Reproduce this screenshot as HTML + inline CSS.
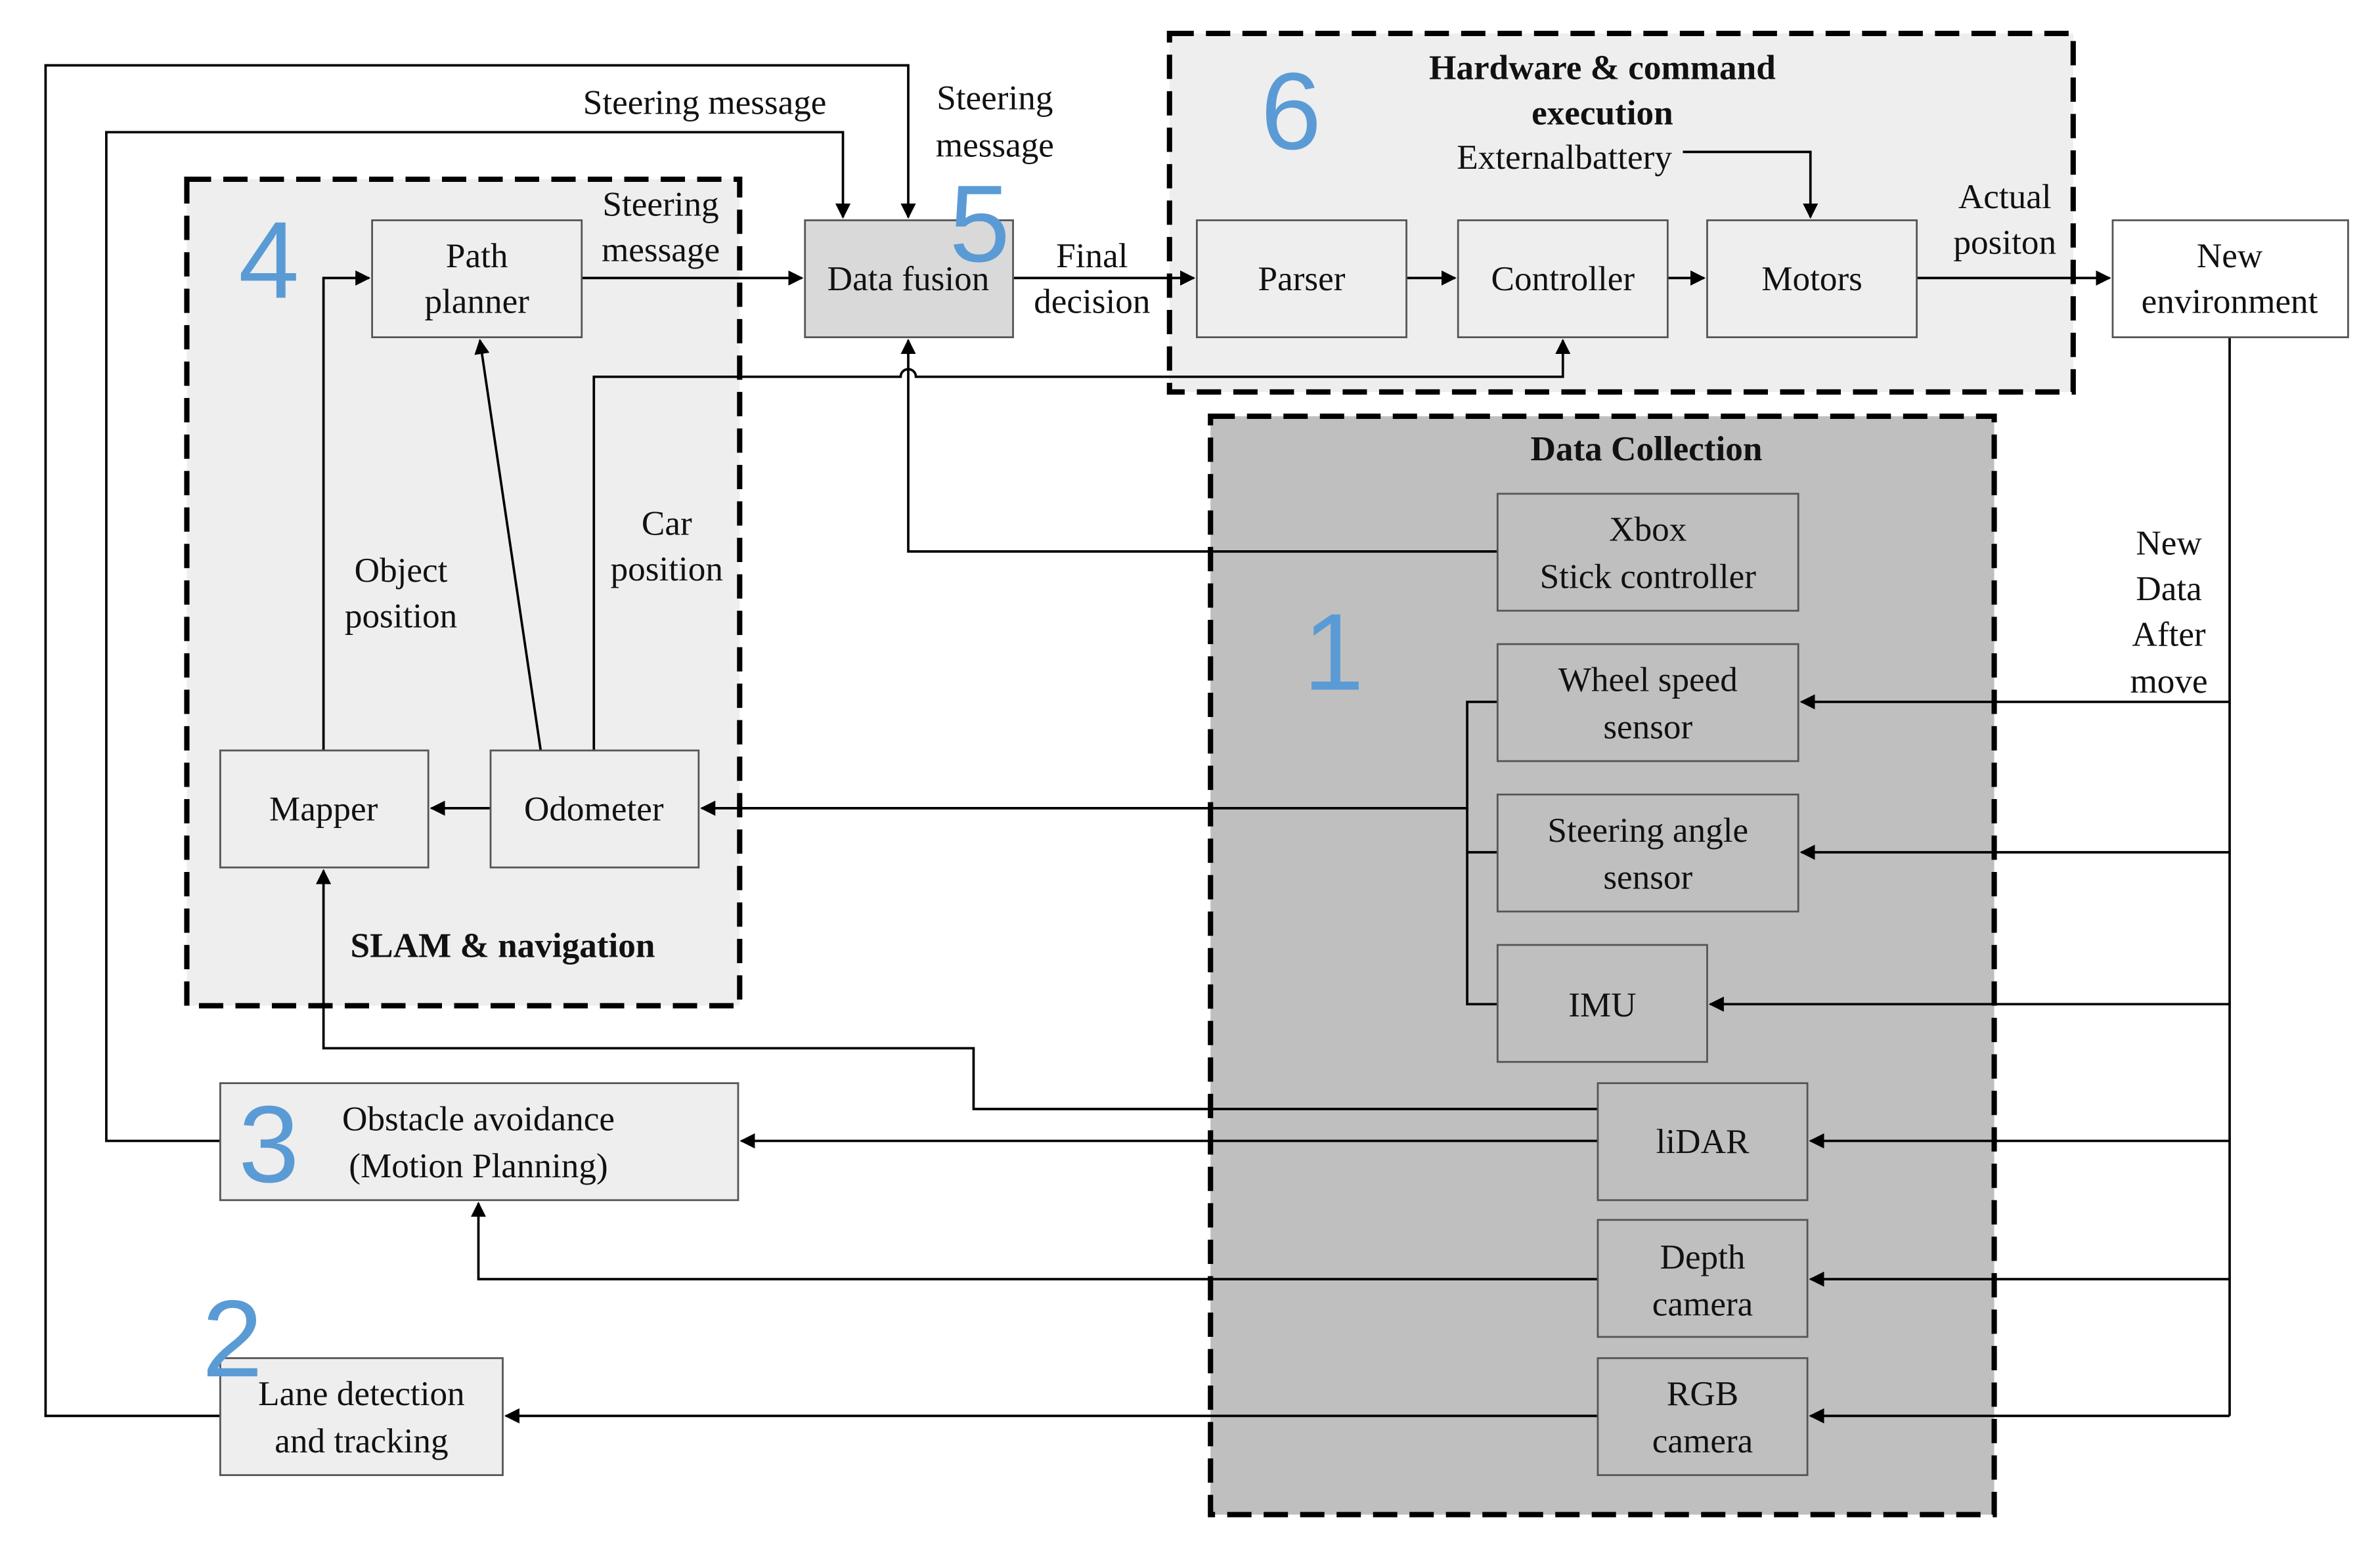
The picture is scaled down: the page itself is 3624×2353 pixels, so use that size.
<!DOCTYPE html>
<html><head><meta charset="utf-8"><style>
html,body{margin:0;padding:0;background:#fff;}
svg{display:block;}
text{font-family:"Liberation Serif",serif;font-size:23px;fill:#111;}
.n{font-family:"Liberation Sans",sans-serif;font-size:72px;fill:#5b9bd5;}
.b{font-weight:bold;}
</style></head><body>
<svg width="3624" height="2353" viewBox="0 0 1567 1017" preserveAspectRatio="none" xmlns="http://www.w3.org/2000/svg">
<defs><marker id="a" markerWidth="10" markerHeight="10" refX="9" refY="5" orient="auto" markerUnits="userSpaceOnUse"><path d="M0,0 L10,5 L0,10 z" fill="#000"/></marker></defs>
<rect width="1567" height="1017" fill="#fff"/>
<rect x="770" y="22" width="595" height="236" fill="#eeeeee" stroke="#000" stroke-width="3.5" stroke-dasharray="16,8"/>
<rect x="797" y="274" width="516" height="723" fill="#bfbfbf" stroke="#000" stroke-width="3.5" stroke-dasharray="16,8"/>
<rect x="123" y="118" width="364" height="544" fill="#eeeeee" stroke="#000" stroke-width="3.5" stroke-dasharray="16,8"/>
<g fill="none" stroke="#000" stroke-width="1.6">
<polyline points="145,932 30,932 30,43 598,43 598,143" marker-end="url(#a)"/>
<polyline points="145,751 70,751 70,87 555,87 555,143" marker-end="url(#a)"/>
<line x1="383" y1="183" x2="528" y2="183" marker-end="url(#a)"/>
<line x1="667" y1="183" x2="786" y2="183" marker-end="url(#a)"/>
<line x1="926" y1="183" x2="958" y2="183" marker-end="url(#a)"/>
<line x1="1098" y1="183" x2="1122" y2="183" marker-end="url(#a)"/>
<line x1="1262" y1="183" x2="1389" y2="183" marker-end="url(#a)"/>
<polyline points="1108,100 1192,100 1192,143" marker-end="url(#a)"/>
<path d="M391,494 L391,248 L593,248 A5,5 0 0 1 603,248 L1029,248 L1029,224" marker-end="url(#a)"/>
<polyline points="986,363 598,363 598,224" marker-end="url(#a)"/>
<polyline points="213,494 213,183 243,183" marker-end="url(#a)"/>
<line x1="356" y1="494" x2="316" y2="224" marker-end="url(#a)"/>
<line x1="323" y1="532" x2="284" y2="532" marker-end="url(#a)"/>
<polyline points="986,462 966,462 966,661 986,661"/>
<line x1="986" y1="561" x2="966" y2="561"/>
<line x1="966" y1="532" x2="462" y2="532" marker-end="url(#a)"/>
<polyline points="1052,730 641,730 641,690 213,690 213,573" marker-end="url(#a)"/>
<line x1="1052" y1="751" x2="488" y2="751" marker-end="url(#a)"/>
<polyline points="1052,842 315,842 315,792" marker-end="url(#a)"/>
<line x1="1052" y1="932" x2="333" y2="932" marker-end="url(#a)"/>
<line x1="1468" y1="222" x2="1468" y2="932"/>
<line x1="1468" y1="462" x2="1186" y2="462" marker-end="url(#a)"/>
<line x1="1468" y1="561" x2="1186" y2="561" marker-end="url(#a)"/>
<line x1="1468" y1="661" x2="1126" y2="661" marker-end="url(#a)"/>
<line x1="1468" y1="751" x2="1192" y2="751" marker-end="url(#a)"/>
<line x1="1468" y1="842" x2="1192" y2="842" marker-end="url(#a)"/>
<line x1="1468" y1="932" x2="1192" y2="932" marker-end="url(#a)"/>
</g>
<g stroke="#555" stroke-width="1.2" fill="#eeeeee">
<rect x="245" y="145" width="138" height="77"/>
<rect x="530" y="145" width="137" height="77" fill="#d9d9d9"/>
<rect x="788" y="145" width="138" height="77"/>
<rect x="960" y="145" width="138" height="77"/>
<rect x="1124" y="145" width="138" height="77"/>
<rect x="1391" y="145" width="155" height="77" fill="#fff"/>
<rect x="986" y="325" width="198" height="77" fill="#bfbfbf"/>
<rect x="986" y="424" width="198" height="77" fill="#bfbfbf"/>
<rect x="986" y="523" width="198" height="77" fill="#bfbfbf"/>
<rect x="986" y="622" width="138" height="77" fill="#bfbfbf"/>
<rect x="1052" y="713" width="138" height="77" fill="#bfbfbf"/>
<rect x="1052" y="803" width="138" height="77" fill="#bfbfbf"/>
<rect x="1052" y="894" width="138" height="77" fill="#bfbfbf"/>
<rect x="145" y="494" width="137" height="77"/>
<rect x="323" y="494" width="137" height="77"/>
<rect x="145" y="713" width="341" height="77"/>
<rect x="145" y="894" width="186" height="77"/>
</g>
<g text-anchor="middle">
<text x="314" y="176">Path</text><text x="314" y="206">planner</text>
<text x="598" y="191">Data fusion</text>
<text x="857" y="191">Parser</text>
<text x="1029" y="191">Controller</text>
<text x="1193" y="191">Motors</text>
<text x="1468" y="176">New</text><text x="1468" y="206">environment</text>
<text x="1085" y="356">Xbox</text><text x="1085" y="387">Stick controller</text>
<text x="1085" y="455">Wheel speed</text><text x="1085" y="486">sensor</text>
<text x="1085" y="554">Steering angle</text><text x="1085" y="585">sensor</text>
<text x="1055" y="669">IMU</text>
<text x="1121" y="759">liDAR</text>
<text x="1121" y="835">Depth</text><text x="1121" y="866">camera</text>
<text x="1121" y="925">RGB</text><text x="1121" y="956">camera</text>
<text x="213" y="540">Mapper</text>
<text x="391" y="540">Odometer</text>
<text x="315" y="744">Obstacle avoidance</text><text x="315" y="775">(Motion Planning)</text>
<text x="238" y="925">Lane detection</text><text x="238" y="956">and tracking</text>
<text x="464" y="75">Steering message</text>
<text x="655" y="72">Steering</text><text x="655" y="103">message</text>
<text x="435" y="142">Steering</text><text x="435" y="172">message</text>
<text x="719" y="176">Final</text><text x="719" y="206">decision</text>
<text x="1320" y="137">Actual</text><text x="1320" y="167">positon</text>
<text x="1030" y="111">Externalbattery</text>
<text x="1055" y="52" class="b">Hardware &amp; command</text><text x="1055" y="82" class="b">execution</text>
<text x="1084" y="303" class="b">Data Collection</text>
<text x="331" y="630" class="b">SLAM &amp; navigation</text>
<text x="264" y="383">Object</text><text x="264" y="413">position</text>
<text x="439" y="352">Car</text><text x="439" y="382">position</text>
<text x="1428" y="365">New</text><text x="1428" y="395">Data</text><text x="1428" y="425">After</text><text x="1428" y="456">move</text>
</g>
<text class="n" x="830" y="98">6</text>
<text class="n" x="625" y="172">5</text>
<text class="n" x="157" y="196">4</text>
<text class="n" x="157" y="778">3</text>
<text class="n" x="133" y="906">2</text>
<text class="n" x="858" y="454">1</text>
</svg>
</body></html>
